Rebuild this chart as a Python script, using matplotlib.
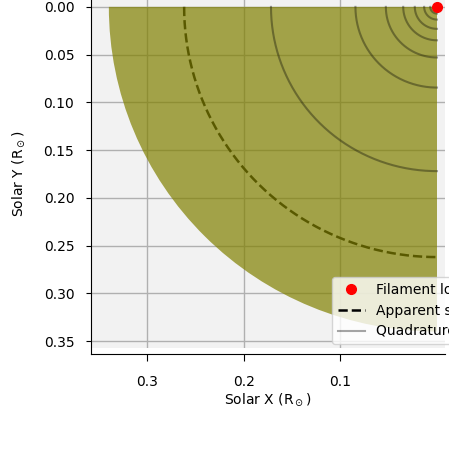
import numpy as np
import matplotlib.pyplot as plt
from matplotlib.patches import Wedge

# geometry of the sketch (solar radii)
disk_radius = 0.34
apparent_radius = 0.262
quadrature_radii = [0.172, 0.0845, 0.053, 0.035, 0.023, 0.0133, 0.007]
filament_x = [0.0]
filament_y = [0.0]

x_ticks = [0.3, 0.2, 0.1]
y_ticks = [0.00, 0.05, 0.10, 0.15, 0.20, 0.25, 0.30, 0.35]

fig = plt.figure(figsize=(4.49, 4.59), dpi=100)
ax = fig.add_axes([91 / 449, 111 / 459, 354 / 449, 348 / 459])
ax.set_facecolor("#f2f2f2")

# quarter of the solar disk
ax.add_patch(Wedge((0, 0), disk_radius, 0, 90, facecolor="olive",
                   edgecolor="none", alpha=0.7, zorder=3))

t = np.linspace(0, np.pi / 2, 200)
ax.plot(apparent_radius * np.cos(t), apparent_radius * np.sin(t), "k--",
        lw=1.8, zorder=2, label="Apparent size")
for i, rq in enumerate(quadrature_radii):
    ax.plot(rq * np.cos(t), rq * np.sin(t), color="k", alpha=0.35, lw=1.5,
            zorder=4, label="Quadrature points" if i == 0 else None)
ax.plot(filament_x, filament_y, "ro", ms=7, zorder=6, clip_on=False,
        label="Filament location")

ax.set_xlim(0.3585, -0.0083)
ax.set_ylim(0.3572, -0.0072)
ax.set_xticks(x_ticks)
ax.set_xticklabels([f"{v:.1f}" for v in x_ticks])
ax.set_yticks(y_ticks)
ax.set_yticklabels([f"{v:.2f}" for v in y_ticks])
ax.tick_params(axis="x", length=5, pad=10)
ax.tick_params(axis="y", length=3.5, pad=8.5)
ax.grid(True, color="#b0b0b0", lw=1)
ax.set_axisbelow(True)

ax.spines["top"].set_visible(False)
ax.spines["right"].set_visible(False)
ax.spines["bottom"].set_position(("outward", 4.3))
ax.spines["left"].set_bounds(0.3572 + 0.0062, -0.0072)

ax.set_xlabel("Solar X (R$_\\odot$)", labelpad=2)
ax.set_ylabel("Solar Y (R$_\\odot$)", labelpad=12)

handles, labels = ax.get_legend_handles_labels()
order = [2, 0, 1]
ax.legend([handles[i] for i in order], [labels[i] for i in order],
          loc="lower left", bbox_to_anchor=(332 / 449, 115 / 459),
          bbox_transform=fig.transFigure, borderaxespad=0)

fig.savefig("out.png", dpi=100)
